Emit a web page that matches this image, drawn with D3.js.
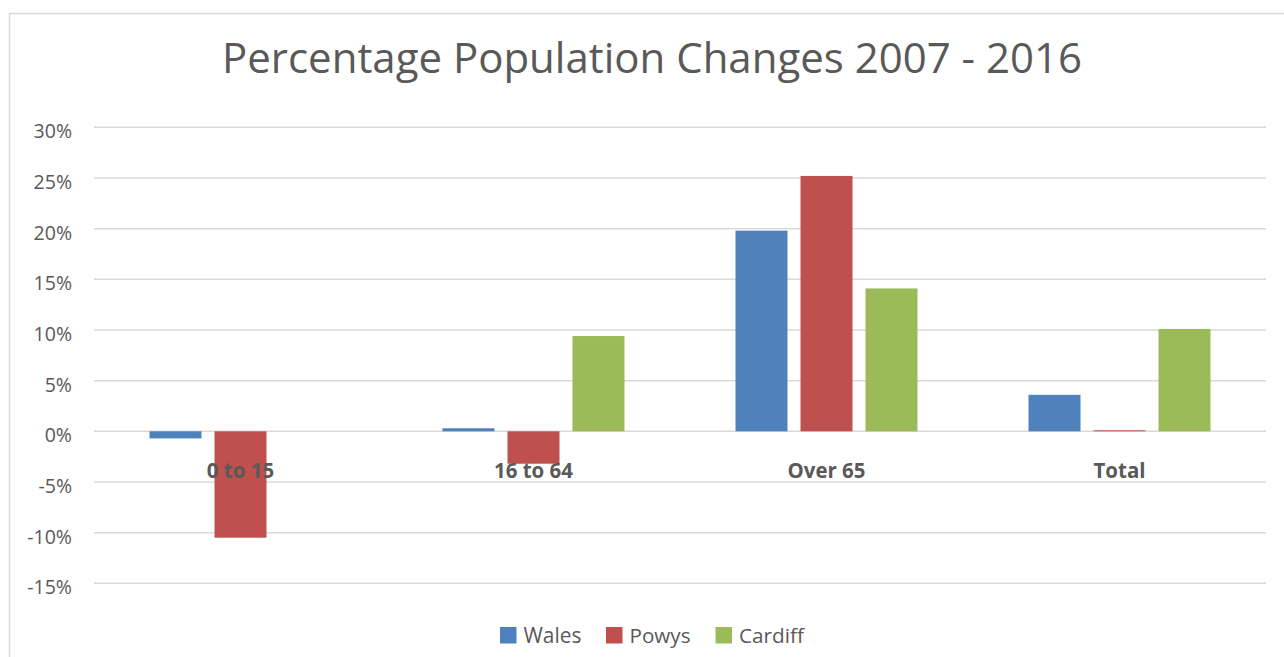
<!DOCTYPE html>
<html><head><meta charset="utf-8">
<script src="https://cdn.jsdelivr.net/npm/d3@7"></script>
<style>body{margin:0;background:#fff;}svg{display:block;font-family:"Open Sans",sans-serif;}</style>
</head><body>
<svg id="c" width="1284" height="657"></svg>
<script>
const categories = ["0 to 15", "16 to 64", "Over 65", "Total"];
const seriesNames = ["Wales", "Powys", "Cardiff"];
const wales = [-0.7, 0.3, 19.8, 3.6];
const powys = [-10.5, -3.2, 25.2, 0.1];
const cardiff = [0, 9.4, 14.1, 10.1];
const tickValues = [30, 25, 20, 15, 10, 5, 0, -5, -10, -15];
const colors = ["#4F81BD", "#C0504D", "#9BBB59"];
const titleText = "Percentage Population Changes 2007 - 2016";

const seriesValues = [wales, powys, cardiff];
const svg = d3.select("#c");
const textColor = "#595959";

// border
svg.append("rect").attr("x", 9.5).attr("y", 13.5).attr("width", 1400).attr("height", 800)
  .attr("fill", "none").attr("stroke", "#d9d9d9").attr("stroke-width", 1.5);

function fit(sel, target) {
  const w = sel.node().getComputedTextLength();
  const fs = parseFloat(sel.attr("font-size"));
  sel.attr("font-size", fs * target / w);
}

const x0 = d3.scaleBand().domain(categories).range([94, 1266]).padding(0);
const x1 = d3.scaleBand().domain(seriesNames).range([0, 182]).paddingInner(0.2).paddingOuter(0);
const y = d3.scaleLinear().domain([-15, 30]).range([583.3, 127.3]);

// gridlines
svg.append("g").selectAll("line").data(tickValues).join("line")
  .attr("x1", 94).attr("x2", 1266)
  .attr("y1", d => y(d)).attr("y2", d => y(d))
  .attr("stroke", "#d9d9d9").attr("stroke-width", 1.5);

// y tick labels
svg.append("g").selectAll("text").data(tickValues).join("text")
  .attr("x", 72).attr("y", d => y(d) + 11)
  .attr("text-anchor", "end").attr("fill", textColor)
  .attr("font-size", 19.5)
  .text(d => d + "%");

// bars
const groupOffset = (x0.bandwidth() - 182) / 2;
seriesNames.forEach((s, si) => {
  svg.append("g").selectAll("rect").data(categories).join("rect")
    .attr("x", c => x0(c) + groupOffset + x1(s))
    .attr("width", x1.bandwidth())
    .attr("y", (c, i) => y(Math.max(0, seriesValues[si][i])))
    .attr("height", (c, i) => Math.abs(y(seriesValues[si][i]) - y(0)))
    .attr("fill", colors[si]);
});

// category labels
const catTargets = {"0 to 15": 79, "16 to 64": 79, "Over 65": 77, "Total": 51};
svg.append("g").selectAll("text").data(categories).join("text")
  .attr("x", c => x0(c) + x0.bandwidth() / 2)
  .attr("y", 477.5)
  .attr("text-anchor", "middle").attr("font-weight", "bold").attr("fill", textColor)
  .attr("font-size", 20)
  .text(c => c);
svg.selectAll("g:last-of-type text").each(function(c){ });
// fit category label font size using "16 to 64"
{
  const t = svg.append("text").attr("font-weight","bold").attr("font-size",20).text("16 to 64");
  const w = t.node().getComputedTextLength(); t.remove();
  const fs = 20 * 79 / w;
  svg.selectAll("text").filter(function(){ return categories.includes(this.textContent) && d3.select(this).attr("font-weight")==="bold"; }).attr("font-size", fs);
}

// title
const title = svg.append("text").attr("x", 652).attr("y", 73).attr("text-anchor", "middle")
  .attr("fill", textColor).attr("font-size", 40).text(titleText);
fit(title, 860);

// legend
const legendX = [500, 606, 715.5];
const legendTextW = [58, 61, 65];
const lg = svg.append("g");
seriesNames.forEach((s, i) => {
  lg.append("rect").attr("x", legendX[i]).attr("y", 627).attr("width", 16.5).attr("height", 16.5).attr("fill", colors[i]);
  const t = lg.append("text").attr("x", legendX[i] + 23.5).attr("y", 643.3).attr("fill", textColor)
    .attr("font-size", 20).text(s);
  fit(t, legendTextW[i]);
});
</script>
</body></html>
